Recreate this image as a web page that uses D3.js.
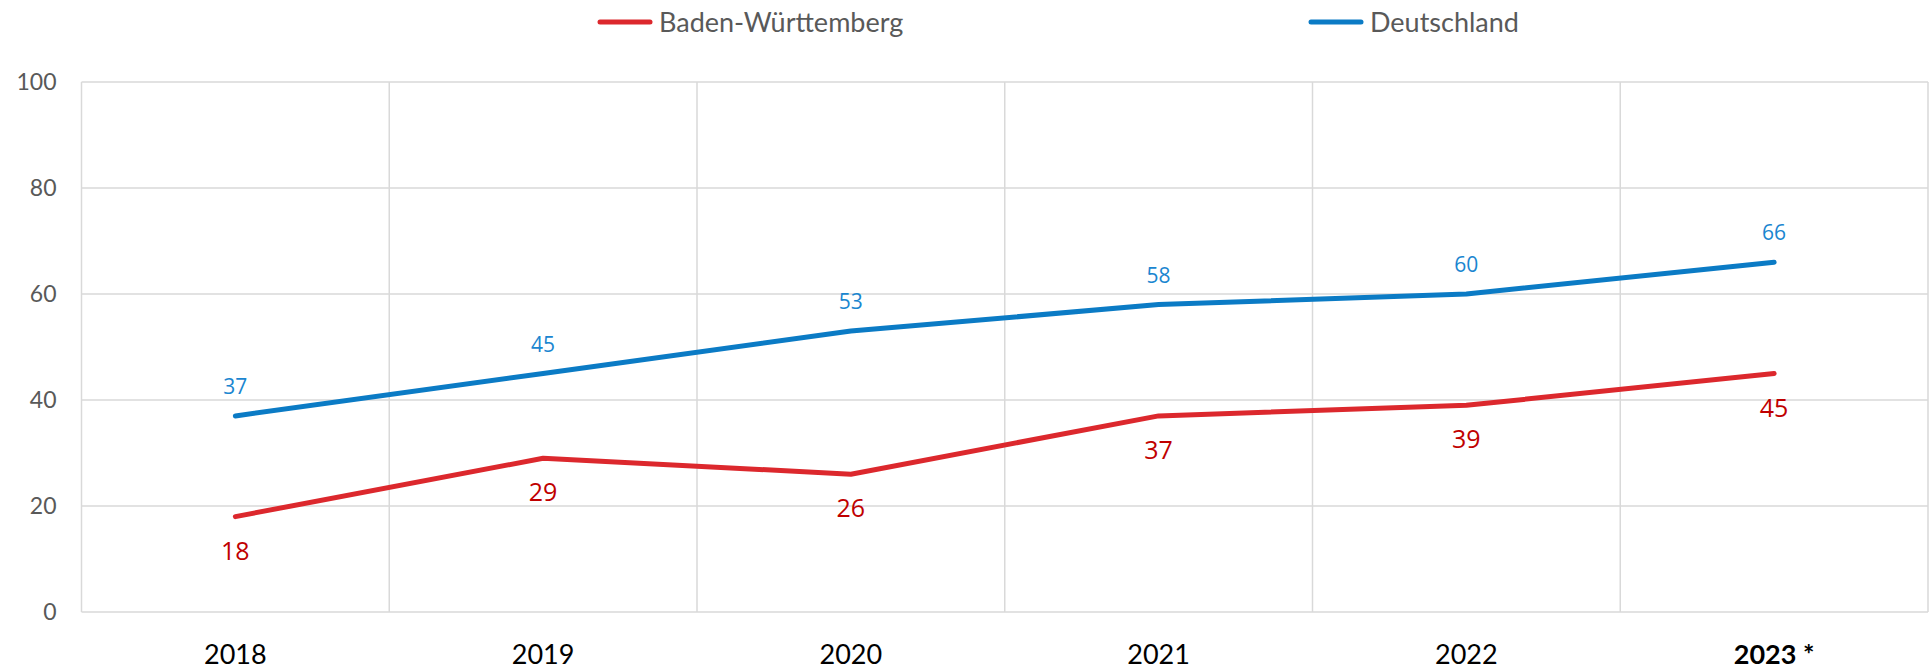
<!DOCTYPE html>
<html>
<head>
<meta charset="utf-8">
<script src="https://cdn.jsdelivr.net/npm/d3@7"></script>
<style>
  body { margin: 0; background: #fff; }
  .tick-y { font-family: Lato, "Open Sans", sans-serif; font-size: 23px; fill: #595959; }
  .tick-x { font-family: Lato, "Open Sans", sans-serif; font-size: 27px; fill: #000; }
  .legend text { font-family: Lato, "Open Sans", sans-serif; font-size: 27px; fill: #595959; }
  .lbl { font-family: "Open Sans", sans-serif; }
</style>
</head>
<body>
<script>
//// DATA
var years = ["2018", "2019", "2020", "2021", "2022", "2023 *"];
var bwValues = [18, 29, 26, 37, 39, 45];
var deValues = [37, 45, 53, 58, 60, 66];
var yTicks = [0, 20, 40, 60, 80, 100];

var series = [
  { name: "Baden-Württemberg", values: bwValues, line: "#dc282d", label: "#c00000", size: 25, above: false },
  { name: "Deutschland", values: deValues, line: "#0b7bc5", label: "#1a86d0", size: 21, above: true }
];

//// DIMENSIONS
var W = 1930, H = 670;
var margin = { top: 82, right: 2, bottom: 58, left: 81.5 },
    width = W - margin.left - margin.right,
    height = H - margin.top - margin.bottom;

var svg = d3.select("body").append("svg")
    .attr("width", W)
    .attr("height", H);

var g = svg.append("g")
    .attr("transform", "translate(" + margin.left + "," + margin.top + ")");

var x = d3.scaleBand().domain(years).range([0, width]);
var y = d3.scaleLinear().domain([0, 100]).range([height, 0]);
var cx = function(i) { return x(years[i]) + x.bandwidth() / 2; };

//// GRID
g.selectAll(".hgrid")
    .data(yTicks)
  .enter().append("line")
    .attr("x1", 0).attr("x2", width)
    .attr("y1", function(d) { return y(d); })
    .attr("y2", function(d) { return y(d); })
    .attr("stroke", "#d9d9d9").attr("stroke-width", 1.5);

var bounds = years.map(function(d) { return x(d); }).concat([width]);
g.selectAll(".vgrid")
    .data(bounds)
  .enter().append("line")
    .attr("x1", function(d) { return d; }).attr("x2", function(d) { return d; })
    .attr("y1", 0).attr("y2", height)
    .attr("stroke", "#d9d9d9").attr("stroke-width", 1.5);

// y tick labels
g.selectAll(".tick-y")
    .data(yTicks)
  .enter().append("text")
    .attr("class", "tick-y")
    .attr("x", -25)
    .attr("y", function(d) { return y(d); })
    .attr("dy", "0.36em")
    .attr("text-anchor", "end")
    .text(function(d) { return d; });

// x labels
g.selectAll(".tick-x")
    .data(years)
  .enter().append("text")
    .attr("class", "tick-x")
    .attr("x", function(d) { return x(d) + x.bandwidth() / 2; })
    .attr("y", height + 52)
    .attr("text-anchor", "middle")
    .style("font-weight", function(d, i) { return i == years.length - 1 ? "bold" : "normal"; })
    .text(function(d) { return d; });

//// LINES
var line = d3.line()
    .x(function(d, i) { return cx(i); })
    .y(function(d) { return y(d); });

series.forEach(function(s) {
  g.append("path")
      .datum(s.values)
      .attr("fill", "none")
      .attr("stroke", s.line)
      .attr("stroke-width", 5)
      .attr("stroke-linecap", "round")
      .attr("stroke-linejoin", "round")
      .attr("d", line);

  g.selectAll(null)
      .data(s.values)
    .enter().append("text")
      .attr("class", "lbl")
      .attr("x", function(d, i) { return cx(i); })
      .attr("y", function(d) { return s.above ? y(d) - 22 : y(d) + 43; })
      .attr("text-anchor", "middle")
      .style("font-size", s.size + "px")
      .attr("fill", s.label)
      .text(function(d) { return d; });
});

//// LEGEND
var legendX = [600, 1311];
var legend = svg.selectAll(".legend")
    .data(series)
  .enter().append("g")
    .attr("class", "legend")
    .attr("transform", function(d, i) { return "translate(" + legendX[i] + ",22)"; });

legend.append("line")
    .attr("x1", 0).attr("x2", 50)
    .attr("stroke", function(d) { return d.line; })
    .attr("stroke-width", 5)
    .attr("stroke-linecap", "round");

legend.append("text")
    .attr("x", 59)
    .attr("dy", "0.36em")
    .text(function(d) { return d.name; });
</script>
</body>
</html>
